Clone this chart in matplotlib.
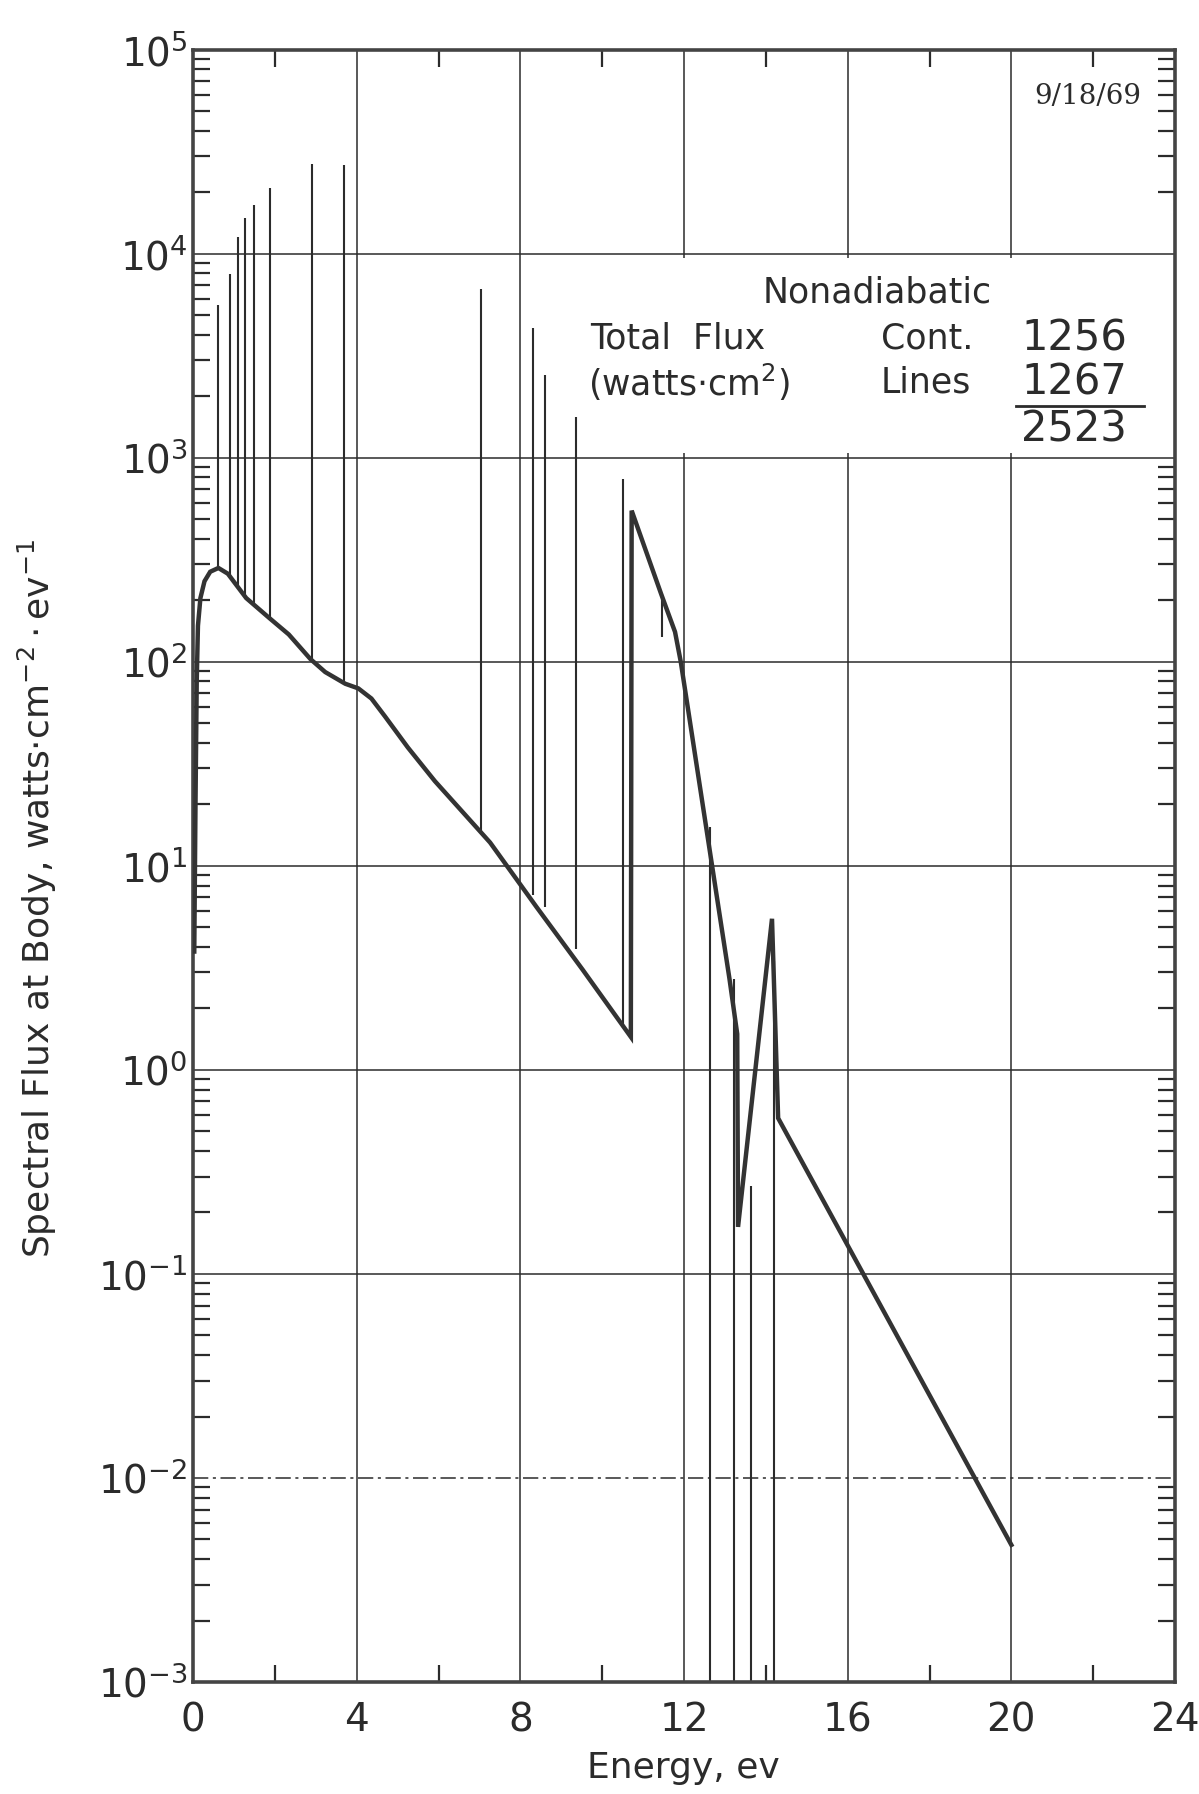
import matplotlib.pyplot as plt
from matplotlib.patches import Rectangle
from matplotlib.ticker import FixedLocator, LogLocator, NullFormatter

plt.rcParams['font.family'] = ['DejaVu Sans']
plt.rcParams['mathtext.default'] = 'regular'

ink = '#2b2b2b'

# continuum (eV, watts cm^-2 eV^-1)
energy = [0.03, 0.06, 0.09, 0.12, 0.18, 0.28, 0.42, 0.62, 0.85, 1.3, 1.86, 2.34,
          2.87, 3.23, 3.72, 4.04, 4.36, 4.69, 5.25, 5.91, 7.26, 8.39, 9.52, 10.7,
          10.72, 11.44, 11.78, 11.92, 12.54, 13.11, 13.3, 13.32, 14.15, 14.3, 20.0]
flux = [3.8, 20, 80, 150, 205, 248, 276, 288, 270, 205, 164, 136,
        103, 89, 78, 74, 66, 54, 38, 26, 13, 6.3, 3.1, 1.45,
        550, 215, 140, 100, 15.5, 2.8, 1.5, 0.17, 5.5, 0.58, 0.0047]

# spectral lines: energy, lower end, upper end
line_energy = [0.62, 0.91, 1.09, 1.27, 1.49, 1.87, 2.90, 3.70,
               7.05, 8.30, 8.60, 9.35, 10.50, 11.45,
               12.63, 13.22, 13.63, 14.21]
line_low = [285, 262, 235, 215, 195, 163, 102, 78,
            14.5, 7.2, 6.3, 3.9, 1.6, 132,
            1e-3, 1e-3, 1e-3, 1e-3]
line_high = [5600, 7900, 12000, 15000, 17300, 21000, 27500, 27200,
             6700, 4300, 2540, 1590, 785, 215,
             15.5, 2.8, 0.27, 3.4]

x_ticks = [0, 4, 8, 12, 16, 20, 24]
x_minor = [2, 6, 10, 14, 18, 22]
y_ticks = [1e-3, 1e-2, 1e-1, 1e0, 1e1, 1e2, 1e3, 1e4, 1e5]
y_ticklabels = [r'$10^{-3}$', r'$10^{-2}$', r'$10^{-1}$', r'$10^{0}$', r'$10^{1}$',
                r'$10^{2}$', r'$10^{3}$', r'$10^{4}$', r'$10^{5}$']

fig = plt.figure(figsize=(11.99, 17.94), dpi=100)
ax = fig.add_axes([0.161, 0.0624, 0.819, 0.91])
ax.set_yscale('log')
ax.set_xlim(0, 24)
ax.set_ylim(1e-3, 1e5)

ax.set_axisbelow(True)
ax.grid(True, which='major', color=ink, lw=1.1)
ax.set_xticks(x_ticks)
ax.set_yticks(y_ticks)
ax.set_yticklabels(y_ticklabels)
ax.yaxis.get_gridlines()[1].set_linestyle((0, (10, 3, 2, 3)))
ax.xaxis.set_minor_locator(FixedLocator(x_minor))
ax.yaxis.set_minor_locator(LogLocator(base=10, subs=range(2, 10), numticks=20))
ax.yaxis.set_minor_formatter(NullFormatter())

ax.tick_params(which='major', length=0, labelsize=28, colors=ink)
ax.tick_params(axis='x', which='major', pad=14)
ax.tick_params(axis='y', which='major', pad=4)
ax.tick_params(which='minor', direction='in', length=12, width=1.6, color=ink,
               left=True, right=True, top=True, bottom=True)
for s in ax.spines.values():
    s.set_linewidth(2.6)
    s.set_color('#444444')

# blank panel behind the totals (between the 10^3 and 10^4 grid lines)
ax.add_patch(Rectangle((9.8, 1.05e3), 14.2, 0.95e4 - 1.05e3, facecolor='white',
                       edgecolor='none', zorder=0.8))

ax.vlines(line_energy, line_low, line_high, color=ink, lw=1.5, zorder=2)
ax.plot(energy, flux, color='#333333', lw=3.2, solid_joinstyle='miter', zorder=3)

ax.set_xlabel('Energy, ev', fontsize=26, color=ink)
ax.xaxis.set_label_coords(0.499, -0.042)
ax.set_ylabel(r'Spectral Flux at Body, watts$\cdot$cm$^{-2}\cdot$ev$^{-1}$',
              fontsize=26, color=ink)
ax.yaxis.set_label_coords(-0.136, 0.48)

tr = ax.transAxes
ax.text(0.697, 0.851, 'Nonadiabatic', transform=tr, fontsize=25, color=ink,
        ha='center', va='center')
ax.text(0.404, 0.8227, 'Total  Flux', transform=tr, fontsize=25, color=ink,
        ha='left', va='center')
ax.text(0.402, 0.796, r'(watts$\cdot$cm$^{2}$)', transform=tr, fontsize=25,
        color=ink, ha='left', va='center')
ax.text(0.7006, 0.8227, 'Cont.', transform=tr, fontsize=25, color=ink,
        ha='left', va='center')
ax.text(0.7006, 0.796, 'Lines', transform=tr, fontsize=25, color=ink,
        ha='left', va='center')
ax.text(0.951, 0.8227, '1256', transform=tr, fontsize=30, color=ink,
        ha='right', va='center')
ax.text(0.951, 0.796, '1267', transform=tr, fontsize=30, color=ink,
        ha='right', va='center')
ax.plot([0.838, 0.968], [0.7816, 0.7816], transform=tr, color=ink, lw=2)
ax.text(0.951, 0.767, '2523', transform=tr, fontsize=30, color=ink,
        ha='right', va='center')
ax.text(0.911, 0.9715, '9/18/69', transform=tr, fontsize=20, color=ink,
        family='DejaVu Serif', ha='center', va='center')

fig.savefig('out.png', dpi=100, facecolor='white')
